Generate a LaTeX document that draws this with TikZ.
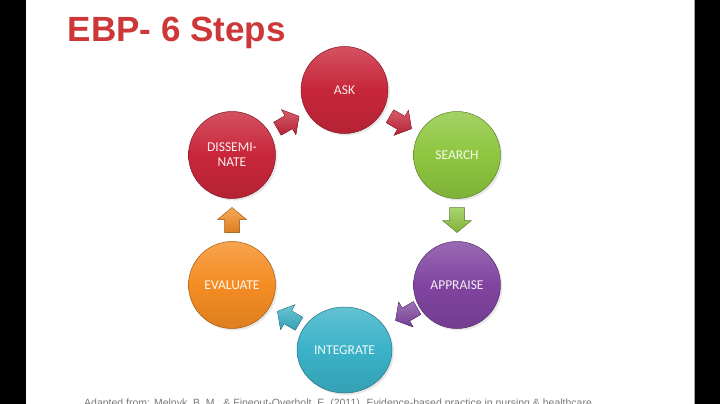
\documentclass[tikz,border=0pt]{standalone}
\usepackage{fontspec}
\setmainfont{Carlito}
\newfontfamily\titlefont{Liberation Sans}
\usetikzlibrary{shapes.geometric,calc,shadows}
\definecolor{askred}{RGB}{200,38,58}
\definecolor{sgreen}{RGB}{141,198,63}
\definecolor{apurple}{RGB}{128,68,160}
\definecolor{iteal}{RGB}{58,178,200}
\definecolor{eorange}{RGB}{245,140,35}
\definecolor{titlered}{RGB}{205,55,55}
\definecolor{citegray}{RGB}{120,120,120}
\tikzset{
  stepball/.style={circle, minimum size=87pt, inner sep=0pt,
    draw=#1!65!black, line width=0.5pt,
    top color=#1!80!white, bottom color=#1!90!black, middle color=#1,
    drop shadow={opacity=0.18, shadow xshift=2pt, shadow yshift=-2pt},
    text=white!92!#1, font=\fontsize{13.5}{14}\selectfont, align=center},
  blockarrow/.pic={
    \fill[top color=#1!75!white, bottom color=#1!90!black, shading angle=0,
          draw=#1!70!black, line width=0.3pt]
      (-12.5,-7.5) -- (0.5,-7.5) -- (0.5,-14.5) -- (12.5,0) -- (0.5,14.5)
      -- (0.5,7.5) -- (-12.5,7.5) -- cycle;
  }
}
\begin{document}
\begin{tikzpicture}[x=1pt,y=-1pt]
\useasboundingbox (0,0) rectangle (720,404);
\begin{scope}
\clip (0,0) rectangle (720,404);
\fill[black] (0,0) rectangle (26,404);
\fill[black] (694,0) rectangle (720,404);
\fill[white] (26,0) rectangle (694,404);
\draw[gray!70, line width=0.6pt] (694,0) -- (694,404);

\node[anchor=base west, inner sep=0pt, text=titlered,
      font=\titlefont\bfseries\fontsize{35}{40}\selectfont] (title) at (67.5,42) {EBP- 6 Steps};

\node[stepball=askred] (ask) at (344.5,90) {ASK};
\node[stepball=sgreen] (search) at (457,155) {SEARCH};
\node[stepball=apurple] (appraise) at (457,285) {APPRAISE};
\node[stepball=iteal, ellipse, minimum width=95pt, minimum height=86pt] (integrate) at (344.5,350) {INTEGRATE};
\node[stepball=eorange] (evaluate) at (232,285) {EVALUATE};
\node[stepball=askred] (disseminate) at (232,155) {DISSEMI-\\[1pt]NATE};

\pic[rotate=30] at ($(disseminate)!0.5!(ask)$) {blockarrow=askred};
\pic[rotate=-30] at ($(ask)!0.5!(search)$) {blockarrow=askred};
\pic[rotate=-90] at ($(search)!0.5!(appraise)$) {blockarrow=sgreen};
\pic[rotate=210] at ($(appraise)!0.45!(integrate)$) {blockarrow=apurple};
\pic[rotate=150] at ($(integrate)!0.5!(evaluate)$) {blockarrow=iteal};
\pic[rotate=90] at ($(evaluate)!0.5!(disseminate)$) {blockarrow=eorange};

\node[anchor=north west, inner sep=0pt, text=citegray,
      font=\titlefont\fontsize{10.5}{12}\selectfont] (cite) at (84,398.5)
  {Adapted from: Melnyk, B. M., \& Fineout-Overholt, E. (2011). Evidence-based practice in nursing \& healthcare};
\end{scope}
\end{tikzpicture}
\end{document}
